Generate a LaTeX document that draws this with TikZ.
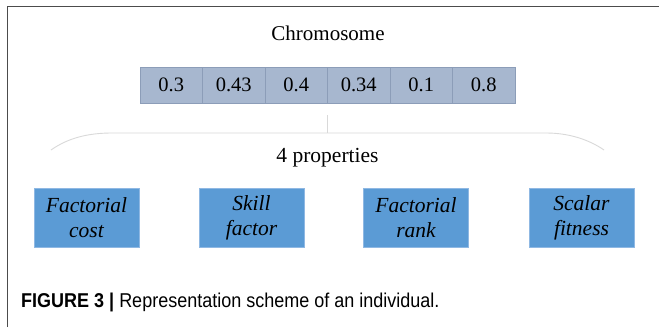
\documentclass[tikz,border=0pt]{standalone}
\usepackage{fontspec}
\setmainfont{Liberation Serif}
\setsansfont{Liberation Sans}
\newfontfamily\capfont[FakeStretch=0.9]{Liberation Sans}
\begin{document}
\begin{tikzpicture}[x=1pt,y=-1pt,
  cell/.style={draw=cellborder,fill=cellfill,minimum width=62.5pt,minimum height=36pt,inner sep=0pt,font=\fontsize{20.5}{24}\selectfont},
  prop/.style={draw=propborder,line width=0.6pt,fill=propfill,minimum width=105pt,minimum height=59pt,inner sep=0pt,align=center,font=\fontsize{21.5}{25}\selectfont\itshape},
  lbl/.style={inner sep=0pt,font=\fontsize{21}{25}\selectfont},
  soft/.style={draw=gray!30,line width=0.9pt}]
\definecolor{cellfill}{HTML}{A7B7CF}
\definecolor{cellborder}{HTML}{8C9DB8}
\definecolor{propfill}{HTML}{5B9BD5}
\definecolor{propborder}{HTML}{8FB8E3}
\useasboundingbox (0,0) rectangle (659,327);
\fill[white] (0,0) rectangle (659,327);
\draw[line width=1.4pt,black!70] (7.5,327) -- (7.5,6.5) -- (659,6.5);
\node[lbl] (chrom) at (328,33) {Chromosome};
\foreach \v [count=\i] in {0.3,0.43,0.4,0.34,0.1,0.8} {
  \node[cell] (c\i) at ({140+62.5*(\i-0.5)},85) {\v};
}
\coordinate (mid) at (327.5,103);
\coordinate (top) at (327.5,133);
\draw[soft] ([yshift=-12pt]mid) -- (top);
\draw[soft] (51,150) .. controls (68,138) and (88,133) .. (112,133) -- (546,133) .. controls (568,133) and (588,139) .. (604,150);
\node[lbl,font=\fontsize{21.5}{25}\selectfont] (props) at (327.5,158) {4 properties};
\node[prop] (p1) at (86.5,217.5) {Factorial\\cost};
\node[prop] (p2) at (251.5,217.5) {Skill\\factor};
\node[prop] (p3) at (416,217.5) {Factorial\\rank};
\node[prop] (p4) at (581.5,217.5) {Scalar\\fitness};
\node[anchor=west,inner sep=0pt,font=\capfont\fontsize{20}{24}\selectfont] (cap) at (21,302) {\textbf{FIGURE 3 |} Representation scheme of an individual.};
\end{tikzpicture}
\end{document}
